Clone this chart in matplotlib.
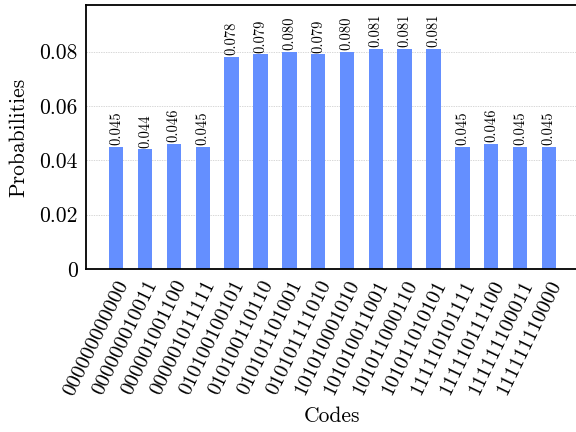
import matplotlib
matplotlib.use("Agg")
import matplotlib.pyplot as plt

codes = [
    "000000000000", "000000010011", "000001001100", "000001011111",
    "010100100101", "010100110110", "010101101001", "010101111010",
    "101010001010", "101010011001", "101011000110", "101011010101",
    "111110101111", "111110111100", "111111100011", "111111110000",
]
probs = [0.045, 0.044, 0.046, 0.045, 0.078, 0.079, 0.080, 0.079,
         0.080, 0.081, 0.081, 0.081, 0.045, 0.046, 0.045, 0.045]
yticks = [0, 0.02, 0.04, 0.06, 0.08]
ytick_labels = ["0", "0.02", "0.04", "0.06", "0.08"]

plt.rcParams["font.family"] = ["cmr10", "DejaVu Serif"]
plt.rcParams["mathtext.fontset"] = "cm"
plt.rcParams["axes.formatter.use_mathtext"] = True

fig = plt.figure(figsize=(5.76, 4.32), dpi=100)
ax = fig.add_axes([86 / 576, 1 - 269 / 432, (576 - 86) / 576 + 0.003, (269 - 5) / 432])

x = list(range(len(codes)))
ax.bar(x, probs, width=0.5, color="#648fff", zorder=2)
for xi, p in zip(x, probs):
    ax.text(xi, p + 0.0007, f"{p:.3f}", rotation=90, ha="center", va="bottom",
            fontsize=10.5, zorder=3)

ax.set_xlim(-1.05, 16.0)
ax.set_ylim(0, max(probs) * 1.2)
ax.set_yticks(yticks)
ax.set_yticklabels(ytick_labels, fontsize=15.5)
ax.set_xticks(x)
ax.set_xticklabels(codes, rotation=64, ha="right", rotation_mode="anchor", fontsize=15)
ax.tick_params(axis="both", length=0, pad=6)
ax.grid(axis="y", color="#c8c8c8", linestyle=(0, (2, 1.5)), linewidth=0.5, zorder=0)
ax.set_axisbelow(True)
for s in ax.spines.values():
    s.set_linewidth(1.3)
ax.set_ylabel("Probabilities", fontsize=15.5, labelpad=8)
ax.set_xlabel("Codes", fontsize=15.5, labelpad=6)

fig.savefig("out.png", dpi=100)
